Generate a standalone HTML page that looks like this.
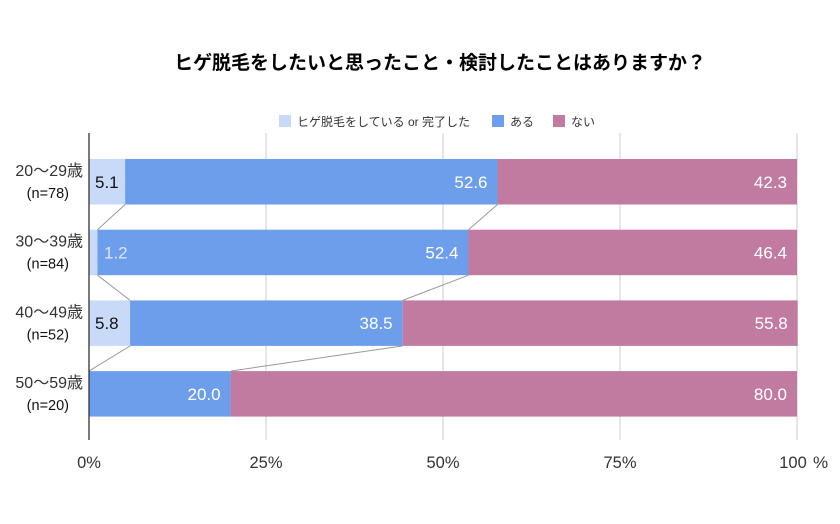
<!DOCTYPE html>
<html><head><meta charset="utf-8">
<style>
body{margin:0;background:#fff;}
svg text{font-family:"Liberation Sans","Noto Sans CJK JP",sans-serif;}
</style></head>
<body>
<svg id="chart" width="840" height="519" viewBox="0 0 840 519" xmlns="http://www.w3.org/2000/svg">
<text x="440" y="69" text-anchor="middle" font-size="19" font-weight="bold" fill="#000">ヒゲ脱毛をしたいと思ったこと・検討したことはありますか？</text>
<g>
<rect x="279" y="115" width="12" height="12" fill="#c9daf8"/>
<text x="297" y="126" font-size="12" fill="#333">ヒゲ脱毛をしている or 完了した</text>
<rect x="492" y="115" width="12" height="12" fill="#6d9eeb"/>
<text x="510" y="126" font-size="12" fill="#333">ある</text>
<rect x="553" y="115" width="12" height="12" fill="#c27ba0"/>
<text x="571" y="126" font-size="12" fill="#333">ない</text>
</g>
<g id="grid"></g>
<g id="connectors"></g>
<g id="bars"></g>
<g id="labels"></g>
<line x1="89" y1="133" x2="89" y2="440" stroke="#333" stroke-width="1.3"/>
<text x="813" y="468" font-size="17" fill="#333">%</text>
</svg>
<script>
const categories = ["20〜29歳", "30〜39歳", "40〜49歳", "50〜59歳"];
const sampleSizes = ["(n=78)", "(n=84)", "(n=52)", "(n=20)"];
const doneValues = [5.1, 1.2, 5.8, 0];
const yesValues = [52.6, 52.4, 38.5, 20.0];
const noValues = [42.3, 46.4, 55.8, 80.0];
const tickValues = [0, 25, 50, 75, 100];
const tickLabels = ["0%", "25%", "50%", "75%", "100"];

const NS = "http://www.w3.org/2000/svg";
const X0 = 89, X1 = 797;
const xs = v => X0 + (X1 - X0) * v / 100;
const rowTop = i => 159 + i * 70.7;
const BH = 45.5;
function mk(tag, attrs, parent) {
  const el = document.createElementNS(NS, tag);
  for (const k in attrs) el.setAttribute(k, attrs[k]);
  parent.appendChild(el);
  return el;
}
const grid = document.getElementById('grid');
tickValues.forEach((t, i) => {
  if (t > 0) {
    const l = mk('line', {x1: xs(t), x2: xs(t), y1: 133, y2: 440, stroke: '#ccc', 'stroke-width': 1}, grid);
    
    
  }
  const tx = mk('text', {x: xs(t) + (t === 100 ? -4 : 0), y: 468, 'text-anchor': 'middle', 'font-size': 16.5, fill: '#333'}, grid);
  tx.textContent = tickLabels[i];
  
  
});
const series = [doneValues, yesValues, noValues];
const colors = ["#c9daf8", "#6d9eeb", "#c27ba0"];
const names = ["done", "yes", "no"];
const bars = document.getElementById('bars');
const labels = document.getElementById('labels');
const conn = document.getElementById('connectors');
categories.forEach((c, i) => {
  const y = rowTop(i);
  let cum = 0;
  series.forEach((s, k) => {
    const v = s[i];
    if (v > 0) {
      const r = mk('rect', {x: xs(cum), y: y, width: xs(cum + v) - xs(cum), height: BH, fill: colors[k]}, bars);
      
      
      let t;
      if (k === 0) {
        const small = (xs(v) - xs(0)) < 30;
        t = mk('text', {x: xs(cum) + (small ? 15 : 6), y: y + BH / 2 + 6, 'font-size': 17, fill: small ? '#dbe6fb' : '#111'}, labels);
      } else {
        t = mk('text', {x: xs(cum + v) - 10, y: y + BH / 2 + 6, 'text-anchor': 'end', 'font-size': 17, fill: '#fff'}, labels);
      }
      t.textContent = v.toFixed(1);
      
      
    }
    cum += v;
    if (k < 2 && i < categories.length - 1) {
      let nc = 0;
      for (let j = 0; j <= k; j++) nc += series[j][i + 1];
      const l = mk('line', {x1: xs(cum), y1: y + BH, x2: xs(nc), y2: rowTop(i + 1), stroke: '#999', 'stroke-width': 1}, conn);
      
      
    }
  });
  const t1 = mk('text', {x: 83, y: y + 17, 'text-anchor': 'end', 'font-size': 16, fill: '#333'}, labels);
  t1.textContent = c;
  
  
  const t2 = mk('text', {x: 69, y: y + 39, 'text-anchor': 'end', 'font-size': 14.5, fill: '#111'}, labels);
  t2.textContent = sampleSizes[i];
  
  
});
</script>
</body></html>
